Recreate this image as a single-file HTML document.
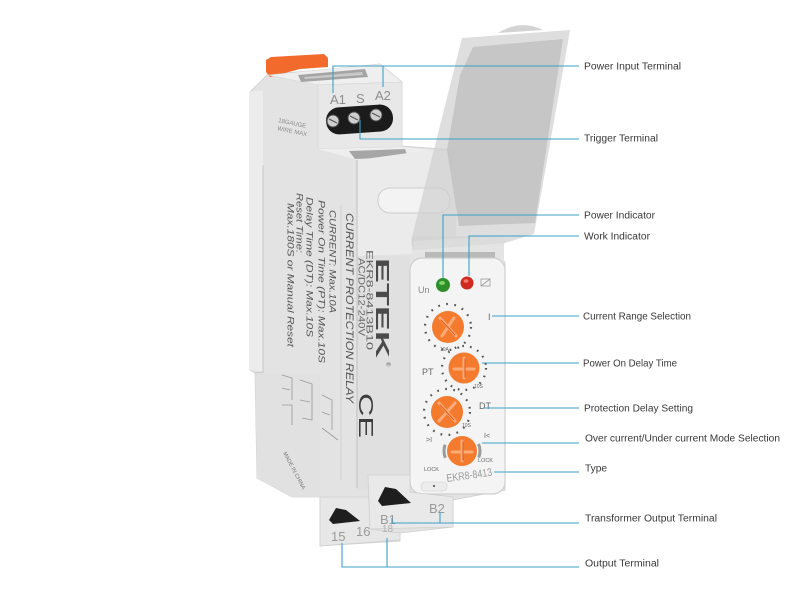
<!DOCTYPE html>
<html><head><meta charset="utf-8"><style>
html,body{margin:0;padding:0;background:#fff;}
svg{display:block;}
text{font-family:"Liberation Sans",sans-serif;}
</style></head><body>
<svg width="800" height="595" viewBox="0 0 800 595" xmlns="http://www.w3.org/2000/svg">
<rect width="800" height="595" fill="#fff"/>

<!-- body base -->
<polygon points="250,92 268,74 324,70 380,64 402,82 402,146 455,150 455,245 505,262 505,490 453,500 453,527 400,533 400,541 320,546 320,497 292,497 257,478 255,373 250,370" fill="#e3e3e3" stroke="#cfcfcf" stroke-width="0.8"/>
<!-- left strip -->
<polygon points="250,92 263,90 263,372 250,370" fill="#ececec"/>
<line x1="263" y1="165" x2="263" y2="372" stroke="#c9c9c9" stroke-width="1"/>
<polygon points="255,373 320,375 320,497 292,497 257,478" fill="#e1e1e1"/>
<line x1="255" y1="373" x2="264" y2="372" stroke="#c8c8c8"/>

<!-- orange tab -->
<polygon points="266,60 271,57 324,54 328,58 328,67 300,69 270,77 266,72" fill="#f26b2d"/>
<!-- top face -->
<polygon points="268,75 380,64 402,82 318,85" fill="#efefef" stroke="#d6d6d6" stroke-width="0.6"/>
<polygon points="298,75 365,69 368,77 301,82" fill="#a4a4a4"/>
<polygon points="304,77 362,72 363,75 305,79" fill="#c9c9c9"/>
<!-- upper block front -->
<polygon points="318,85 402,82 402,147 318,149" fill="#e8e8e8" stroke="#d2d2d2" stroke-width="0.6"/>
<!-- terminal capsule -->
<g transform="rotate(-4 359 119)">
<rect x="326" y="106" width="67" height="27" rx="13" fill="#1b1b1b"/>
</g>
<g fill="#cfcfcf" stroke="#4a4a4a" stroke-width="1">
<circle cx="333" cy="121" r="6"/><circle cx="354" cy="118" r="6"/><circle cx="376" cy="115" r="6"/>
</g>
<g stroke="#555" stroke-width="1.2">
<line x1="329" y1="119" x2="337" y2="123"/><line x1="350" y1="116" x2="358" y2="120"/><line x1="372" y1="113" x2="380" y2="117"/>
</g>
<text x="330" y="104" font-size="13" fill="#8d8d8d">A1</text>
<text x="356" y="103" font-size="13" fill="#8d8d8d">S</text>
<text x="375" y="100" font-size="13" fill="#8d8d8d">A2</text>
<text font-size="6" fill="#8a8a8a" transform="translate(278,122) rotate(12)">18GAUGE</text>
<text font-size="6" fill="#8a8a8a" transform="translate(277,130) rotate(12)">WIRE MAX</text>

<!-- second block -->
<polygon points="318,149 402,147 430,150 357,160" fill="#eeeeee"/>
<polygon points="349,151 405,149 408,157 355,159" fill="#a6a6a6"/>
<polygon points="357,160 430,150 455,152 455,252 357,256" fill="#ebebeb"/>
<rect x="378" y="188" width="72" height="25" rx="12" fill="#f3f3f3" stroke="#cdcdcd"/>
<rect x="357" y="256" width="53" height="234" fill="#e0e0e0"/>
<line x1="357" y1="160" x2="357" y2="488" stroke="#bdbdbd" stroke-width="0.9"/>

<!-- side text -->
<g fill="#555" font-style="italic">
<text font-size="11" textLength="190" lengthAdjust="spacingAndGlyphs" transform="translate(346,213) rotate(90)">CURRENT PROTECTION RELAY</text>
<text font-size="9.5" textLength="103" lengthAdjust="spacingAndGlyphs" transform="translate(329.5,210) rotate(90)">CURRENT: Max.10A</text>
<text font-size="9.5" textLength="163" lengthAdjust="spacingAndGlyphs" transform="translate(318.5,200) rotate(90)">Power On Time (PT): Max.10S</text>
<text font-size="9.5" textLength="140" lengthAdjust="spacingAndGlyphs" transform="translate(306.5,197) rotate(90)">Delay Time (DT): Max.10S</text>
<text font-size="9.5" textLength="60" lengthAdjust="spacingAndGlyphs" transform="translate(296.5,193) rotate(90)">Reset Time:</text>
<text font-size="9.5" textLength="144" lengthAdjust="spacingAndGlyphs" transform="translate(287.5,203) rotate(90)">Max.180S or Manual Reset</text>
</g>
<line x1="341" y1="205" x2="341" y2="480" stroke="#c4c4c4" stroke-width="0.6"/>
<text font-size="9" fill="#666" textLength="100" lengthAdjust="spacingAndGlyphs" transform="translate(366.5,250) rotate(90)">EKR8-8413B10</text>
<text font-size="9" fill="#666" textLength="78" lengthAdjust="spacingAndGlyphs" transform="translate(358.5,258) rotate(90)">AC/DC12-240V</text>
<text font-size="18" font-weight="bold" fill="#4a4a4a" textLength="100" lengthAdjust="spacingAndGlyphs" transform="translate(376,258) rotate(90)">ETEK</text>
<text font-size="6" fill="#666" transform="translate(386,362) rotate(90)">®</text>
<text font-size="20" fill="#3d3d3d" textLength="45" lengthAdjust="spacingAndGlyphs" transform="translate(359,393) rotate(90)">CE</text>

<!-- wiring diagram -->
<g stroke="#9a9a9a" stroke-width="0.8" fill="none">
<polyline points="282,375 292,378 292,400"/>
<polyline points="282,388 290,390"/>
<polyline points="282,405 292,405 292,425"/>
<polyline points="300,380 312,384 312,420 302,418"/>
<polyline points="300,400 310,402"/>
<polyline points="322,395 332,400 332,430"/>
<polyline points="322,412 330,415"/>
<polyline points="322,428 338,440"/>
</g>
<text font-size="5.5" fill="#777" transform="translate(283,453) rotate(62)">MADE IN CHINA</text>

<!-- hinge area -->
<rect x="412" y="236" width="92" height="26" fill="#e4e4e4"/>
<rect x="425" y="252" width="70" height="6" fill="#b9b9b9"/>

<!-- front panel -->
<rect x="410" y="258" width="95" height="236" rx="12" fill="#f4f4f4" stroke="#cfcfcf" stroke-width="1.2"/>
<rect x="421" y="482" width="26" height="9" rx="4" fill="#ececec" stroke="#d0d0d0" stroke-width="0.6"/>
<circle cx="434" cy="486" r="1" fill="#444"/>

<!-- LEDs -->
<circle cx="443" cy="285" r="7" fill="#2e8f2a"/>
<ellipse cx="442" cy="283" rx="3" ry="2" fill="#7fd46a"/>
<circle cx="467" cy="283" r="6.5" fill="#cf2a1f"/>
<ellipse cx="466" cy="281" rx="2.5" ry="1.8" fill="#f47c6c"/>
<text x="418" y="293" font-size="9" fill="#888">Un</text>
<rect x="481" y="279" width="9" height="7" fill="none" stroke="#999" stroke-width="0.8"/>
<line x1="481" y1="286" x2="490" y2="279" stroke="#999" stroke-width="0.8"/>

<!-- knob scale dots -->
<g fill="none" stroke="#555" stroke-width="2.2">
<circle cx="448" cy="327" r="23" pathLength="100" stroke-dasharray="1.2 4.5"/>
<circle cx="464" cy="368" r="22" pathLength="100" stroke-dasharray="1.2 4.5"/>
<circle cx="447" cy="412" r="23" pathLength="100" stroke-dasharray="1.2 4.5"/>
</g>
<circle cx="462" cy="451" r="18" fill="none" stroke="#9a9a9a" stroke-width="3" pathLength="100" stroke-dasharray="12 38" stroke-dashoffset="6"/>

<!-- knobs -->
<g fill="#f47a2e">
<circle cx="448" cy="327" r="16"/>
<circle cx="464" cy="368" r="15.5"/>
<circle cx="447" cy="412" r="16"/>
<circle cx="462" cy="451" r="15"/>
</g>
<g stroke="#fbab78" stroke-width="3" stroke-linecap="round">
<line x1="440" y1="318" x2="456" y2="336"/><line x1="454" y1="318" x2="442" y2="336"/>
<line x1="464" y1="358" x2="464" y2="378"/><line x1="454" y1="369" x2="474" y2="369"/>
<line x1="439" y1="403" x2="455" y2="421"/><line x1="455" y1="403" x2="439" y2="421"/>
<line x1="462" y1="441" x2="462" y2="461"/><line x1="452" y1="452" x2="472" y2="452"/>
</g>
<g stroke="#e05a1a" stroke-width="1" stroke-linecap="round">
<line x1="441" y1="320" x2="455" y2="335"/>
<line x1="465" y1="359" x2="465" y2="377"/>
<line x1="440" y1="405" x2="454" y2="420"/>
<line x1="463" y1="442" x2="463" y2="460"/>
</g>

<!-- panel labels -->
<g fill="#666">
<text x="488" y="320" font-size="9">I</text>
<text x="422" y="375" font-size="9">PT</text>
<text x="479" y="409" font-size="9">DT</text>
<text x="426" y="442" font-size="7">&gt;I</text>
<text x="484" y="438" font-size="7">I&lt;</text>
<text x="424" y="471" font-size="5.5">LOCK</text>
<text x="478" y="462" font-size="5.5">LOCK</text>
<text x="440" y="351" font-size="5">10A</text>
<text x="474" y="388" font-size="5">10S</text>
<text x="462" y="427" font-size="5">10S</text>
</g>
<text font-size="11" fill="#9a9a9a" textLength="46" lengthAdjust="spacingAndGlyphs" transform="translate(447,482) rotate(-8)">EKR8-8413</text>

<!-- lower blocks -->
<polygon points="320,497 370,497 370,529 400,533 400,540 320,546" fill="#e7e7e7" stroke="#cfcfcf" stroke-width="0.8"/>
<polygon points="329,520 336,508 346,510 360,521 333,524" fill="#1e1e1e"/>
<polygon points="368,475 410,475 410,492 453,497 453,527 370,529" fill="#e9e9e9" stroke="#cfcfcf" stroke-width="0.8"/>
<polygon points="378,501 385,487 396,489 411,503 382,506" fill="#1e1e1e"/>
<g fill="#9a9a9a" font-size="13">
<text x="331" y="541">15</text>
<text x="356" y="536">16</text>
<text x="380" y="524">B1</text>
<text x="429" y="513">B2</text>
</g>
<text x="382" y="532" font-size="10" fill="#b0b0b0">18</text>

<!-- cover -->
<polygon points="462,38 570,30 568,42 534,234 505,243 413,250 411,241" fill="#cfcfcf" fill-opacity="0.68"/>
<polygon points="473,47 563,39 535,223 459,226 447,150 460,75" fill="#c4c4c4" fill-opacity="0.95"/>
<path d="M498,33 Q520,19 543,30 Z" fill="#d3d3d3"/>
<polygon points="413,250 505,243 505,236 414,241" fill="#dcdcdc"/>

<!-- connector lines -->
<g stroke="#3f9fc6" stroke-width="1.1" fill="none">
<polyline points="333,93 333,66 579,66"/>
<line x1="383" y1="87" x2="383" y2="66"/>
<polyline points="360,120 360,139 579,139"/>
<polyline points="443,278 443,215 579,215"/>
<polyline points="469,276 469,236 579,236"/>
<line x1="492" y1="316" x2="579" y2="316"/>
<line x1="482" y1="363" x2="579" y2="363"/>
<line x1="484" y1="408" x2="579" y2="408"/>
<line x1="482" y1="443" x2="579" y2="443"/>
<line x1="494" y1="472" x2="579" y2="472"/>
<polyline points="392,518 392,523 579,523"/>
<line x1="440" y1="512" x2="440" y2="523"/>
<polyline points="342,543 342,567 579,567"/>
<line x1="387" y1="538" x2="387" y2="567"/>
</g>

<!-- labels -->
<g fill="#383838" font-size="10">
<text x="584" y="69.5" textLength="97" lengthAdjust="spacingAndGlyphs">Power Input Terminal</text>
<text x="584" y="141.5" textLength="74" lengthAdjust="spacingAndGlyphs">Trigger Terminal</text>
<text x="584" y="218.5" textLength="71" lengthAdjust="spacingAndGlyphs">Power Indicator</text>
<text x="584" y="239.5" textLength="66" lengthAdjust="spacingAndGlyphs">Work Indicator</text>
<text x="583" y="319.5" textLength="108" lengthAdjust="spacingAndGlyphs">Current Range Selection</text>
<text x="583" y="366.5" textLength="94" lengthAdjust="spacingAndGlyphs">Power On Delay Time</text>
<text x="584" y="411.5" textLength="109" lengthAdjust="spacingAndGlyphs">Protection Delay Setting</text>
<text x="585" y="441.5" textLength="195" lengthAdjust="spacingAndGlyphs">Over current/Under current Mode Selection</text>
<text x="585" y="471.5" textLength="22" lengthAdjust="spacingAndGlyphs">Type</text>
<text x="585" y="521.5" textLength="132" lengthAdjust="spacingAndGlyphs">Transformer Output Terminal</text>
<text x="585" y="566.5" textLength="74" lengthAdjust="spacingAndGlyphs">Output Terminal</text>
</g>
</svg>
</body></html>
